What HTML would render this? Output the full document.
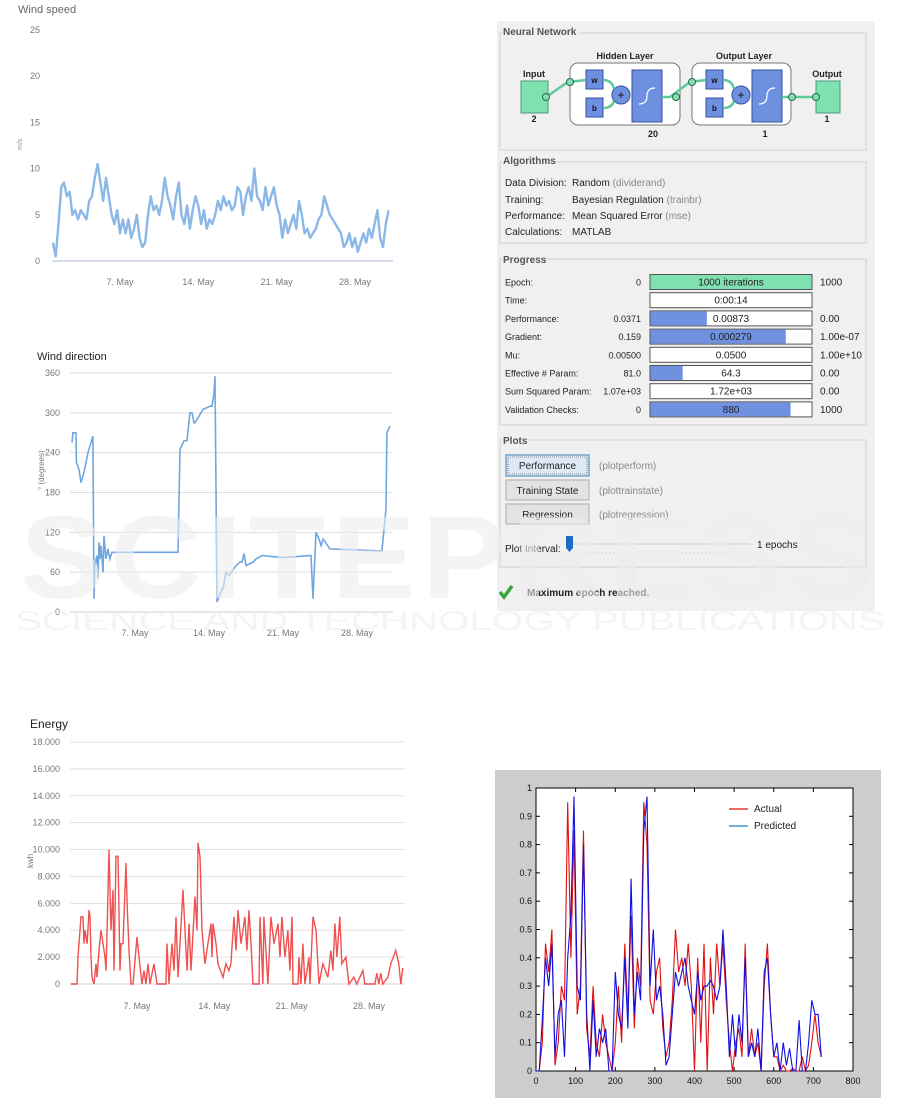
<!DOCTYPE html>
<html><head><meta charset="utf-8">
<style>
html,body{margin:0;padding:0;background:#fff;}
svg{display:block;font-family:"Liberation Sans",sans-serif;}
.tk{font-size:9px;fill:#777;}
.gui{font-size:10px;fill:#222;}
.gray{fill:#888;}
.gt{font-size:10px;font-weight:bold;fill:#555;}
.wm{fill:#ececec;fill-opacity:0.6;}
</style></head>
<body>
<svg id="root" width="901" height="1098" viewBox="0 0 901 1098" xmlns="http://www.w3.org/2000/svg">
  <g id="ws">
    <text x="18" y="13" font-size="11" fill="#666">Wind speed</text>
    <text x="22" y="150" font-size="7" fill="#999" transform="rotate(-90 22 150)">m/s</text>
  </g>
  <g id="wd">
    <text x="37" y="360" font-size="11" fill="#222">Wind direction</text>
    <text x="44" y="490" font-size="8" fill="#777" transform="rotate(-90 44 490)">° (degrees)</text>
  </g>
  <g id="en">
    <text x="30" y="728" font-size="12" fill="#222">Energy</text>
    <text x="33" y="868" font-size="8" fill="#777" transform="rotate(-90 33 868)">kwh</text>
  </g>

  <g id="gui">
    <rect x="497" y="21" width="378" height="590" fill="#f0f0f0"/>
    <rect x="500" y="33" width="366" height="117" fill="none" stroke="#d0d0d0"/>
    <rect x="502" y="24" width="76" height="12" fill="#f0f0f0"/>
    <text class="gt" x="503" y="35">Neural Network</text>

    <g>
      <rect x="521" y="81" width="27" height="32" fill="#7fe0b0" stroke="#4a9a7a"/>
      <text x="534" y="77" font-size="9" font-weight="bold" text-anchor="middle" fill="#222">Input</text>
      <text x="534" y="122" font-size="9" font-weight="bold" text-anchor="middle" fill="#222">2</text>
      <rect x="570" y="63" width="110" height="62" rx="8" fill="#fff" stroke="#777"/>
      <text x="625" y="59" font-size="9" font-weight="bold" text-anchor="middle" fill="#222">Hidden Layer</text>
      <rect x="586" y="70" width="17" height="19" fill="#6f8fe0" stroke="#3050a0"/>
      <text x="594.5" y="83" font-size="8" font-weight="bold" text-anchor="middle" fill="#111">w</text>
      <rect x="586" y="98" width="17" height="19" fill="#6f8fe0" stroke="#3050a0"/>
      <text x="594.5" y="111" font-size="8" font-weight="bold" text-anchor="middle" fill="#111">b</text>
      <circle cx="621" cy="95" r="9" fill="#6f8fe0" stroke="#3050a0"/>
      <text x="621" y="99" font-size="12" text-anchor="middle" fill="#111">+</text>
      <rect x="632" y="70" width="30" height="52" fill="#6f8fe0" stroke="#3050a0"/>
      <path d="M639 104 Q647 104 647 96 Q647 88 655 88" fill="none" stroke="#fff" stroke-width="1.2"/>
      <text x="653" y="137" font-size="9" font-weight="bold" text-anchor="middle" fill="#222">20</text>
      <rect x="692" y="63" width="99" height="62" rx="8" fill="#fff" stroke="#777"/>
      <text x="744" y="59" font-size="9" font-weight="bold" text-anchor="middle" fill="#222">Output Layer</text>
      <rect x="706" y="70" width="17" height="19" fill="#6f8fe0" stroke="#3050a0"/>
      <text x="714.5" y="83" font-size="8" font-weight="bold" text-anchor="middle" fill="#111">w</text>
      <rect x="706" y="98" width="17" height="19" fill="#6f8fe0" stroke="#3050a0"/>
      <text x="714.5" y="111" font-size="8" font-weight="bold" text-anchor="middle" fill="#111">b</text>
      <circle cx="741" cy="95" r="9" fill="#6f8fe0" stroke="#3050a0"/>
      <text x="741" y="99" font-size="12" text-anchor="middle" fill="#111">+</text>
      <rect x="752" y="70" width="30" height="52" fill="#6f8fe0" stroke="#3050a0"/>
      <path d="M759 104 Q767 104 767 96 Q767 88 775 88" fill="none" stroke="#fff" stroke-width="1.2"/>
      <text x="765" y="137" font-size="9" font-weight="bold" text-anchor="middle" fill="#222">1</text>
      <rect x="816" y="81" width="24" height="32" fill="#7fe0b0" stroke="#4a9a7a"/>
      <text x="827" y="77" font-size="9" font-weight="bold" text-anchor="middle" fill="#222">Output</text>
      <text x="827" y="122" font-size="9" font-weight="bold" text-anchor="middle" fill="#222">1</text>
      <g stroke="#5fc89a" stroke-width="2.5" fill="none">
        <path d="M546 97 L568 82 L586 80"/>
        <path d="M603 80 Q612 80 614 89"/>
        <path d="M603 108 Q612 108 614 101"/>
        <path d="M662 97 L670 97 L690 82 L706 80"/>
        <path d="M723 80 Q732 80 734 89"/>
        <path d="M723 108 Q732 108 734 101"/>
        <path d="M782 97 L814 97"/>
      </g>
      <g fill="#7fe0b0" stroke="#2a6a4a">
        <circle cx="546" cy="97" r="3.5"/><circle cx="570" cy="82" r="3.5"/>
        <circle cx="676" cy="97" r="3.5"/><circle cx="692" cy="82" r="3.5"/>
        <circle cx="792" cy="97" r="3.5"/><circle cx="816" cy="97" r="3.5"/>
      </g>
    </g>

    <rect x="500" y="162" width="366" height="81" fill="none" stroke="#d0d0d0"/>
    <rect x="502" y="154" width="52" height="12" fill="#f0f0f0"/>
    <text class="gt" x="503" y="164">Algorithms</text>
    <g class="gui">
      <text x="505" y="186">Data Division:</text><text x="572" y="186">Random <tspan class="gray">  (dividerand)</tspan></text>
      <text x="505" y="203">Training:</text><text x="572" y="203">Bayesian Regulation <tspan class="gray">  (trainbr)</tspan></text>
      <text x="505" y="219">Performance:</text><text x="572" y="219">Mean Squared Error <tspan class="gray">  (mse)</tspan></text>
      <text x="505" y="235">Calculations:</text><text x="572" y="235">MATLAB</text>
    </g>

    <rect x="500" y="259" width="366" height="166" fill="none" stroke="#d0d0d0"/>
    <rect x="502" y="253" width="42" height="12" fill="#f0f0f0"/>
    <text class="gt" x="503" y="263">Progress</text>
    <g id="progress"></g>

    <rect x="500" y="440" width="366" height="127" fill="none" stroke="#d0d0d0"/>
    <rect x="502" y="434" width="26" height="12" fill="#f0f0f0"/>
    <text class="gt" x="503" y="444">Plots</text>
    <g>
      <rect x="506" y="455" width="83" height="21" fill="#dfe9f5" stroke="#3c7fb1"/>
      <rect x="508" y="457" width="79" height="17" fill="none" stroke="#333" stroke-dasharray="1 1" stroke-width="0.6"/>
      <text class="gui" x="547.5" y="469" text-anchor="middle">Performance</text>
    </g>
    <text class="gui gray" x="599" y="469">(plotperform)</text>
    <g>
      <rect x="506" y="480" width="83" height="20" fill="#e3e3e3" stroke="#adadad"/>
      <text class="gui" x="547.5" y="494" text-anchor="middle">Training State</text>
    </g>
    <text class="gui gray" x="599" y="494">(plottrainstate)</text>
    <g>
      <rect x="506" y="504" width="83" height="20" fill="#e3e3e3" stroke="#adadad"/>
      <text class="gui" x="547.5" y="518" text-anchor="middle">Regression</text>
    </g>
    <text class="gui gray" x="599" y="518">(plotregression)</text>
    <text class="gui" x="505" y="552">Plot Interval:</text>
    <g>
      <line x1="570" y1="544" x2="750" y2="544" stroke="#ccc"/>
      <line x1="570" y1="553" x2="750" y2="553" stroke="#bbb" stroke-dasharray="1 3"/>
      <path d="M566 536 L573 536 L573 548 L569.5 552 L566 548 Z" fill="#1a6fc4"/>
    </g>
    <text class="gui" x="757" y="548">1 epochs</text>
    <path d="M500 592 L504 597 L512 586" fill="none" stroke="#3aa33a" stroke-width="3.5"/>
    <text class="gui" x="527" y="596" font-weight="bold" fill="#333">Maximum epoch reached.</text>
  </g>

  <g id="pr">
    <rect x="495" y="770" width="386" height="328" fill="#cdcdcd"/>
    <rect x="536" y="788" width="317" height="283" fill="#fff" stroke="#000" stroke-width="1"/>
  </g>

  <g>
    <text class="wm" x="450" y="598" text-anchor="middle" font-size="118" font-weight="bold" letter-spacing="6" textLength="860" lengthAdjust="spacingAndGlyphs">SCITEPRESS</text>
    <text class="wm" x="450" y="630" text-anchor="middle" font-size="27" textLength="870" lengthAdjust="spacingAndGlyphs">SCIENCE AND TECHNOLOGY PUBLICATIONS</text>
  </g>
</svg>
<script>
const NS = "http://www.w3.org/2000/svg";
function mk(tag, attrs, parent){ const e=document.createElementNS(NS,tag); for(const k in attrs) e.setAttribute(k,attrs[k]); parent.appendChild(e); return e; }

const wsTicks = [0,5,10,15,20,25];
const wsTickLabels = ["0","5","10","15","20","25"];
const wsDateTicks = [7,14,21,28];
const wsDateLabels = ["7. May","14. May","21. May","28. May"];
const wsStartDay = 1;
const wsStepDay = 0.25;
const wsValues = [2,0.5,4,8,8.5,7,7.5,5,5.5,4.5,5.5,5,4.5,6.5,7,9,10.5,8.5,6.5,9,7,5,4,5.5,3,4.5,3,4.5,2.5,3.5,5,2.5,1.5,2,5,7,5.5,6,5,6.5,9,7,6,4.5,7,8.5,5,4,6,3.5,5.5,7,6,4,5.5,3.5,4.5,4,5,6.5,5.5,7,6,6.5,5.5,6,8,7.5,5,7,8,6.5,10,7,6.5,5.5,8,6,7,8,6,5,2.5,4.5,3,4,5,3.5,6.5,5,3,3.5,2.5,3,3.5,4.5,5,7,6,5,4.5,4,3.5,3,1.5,2,3,1.5,2.5,1,2,3,2,3.5,2.5,4,5.5,2.5,1.5,4,5.5];

const wdTicks = [0,60,120,180,240,300,360];
const wdDateTicks = [7,14,21,28];
const wdDateLabels = ["7. May","14. May","21. May","28. May"];
const wdDays = [1.04,1.13,1.42,1.46,1.70,1.89,2.17,2.55,2.93,3.02,3.12,3.21,3.40,3.50,3.59,3.69,3.78,3.97,4.07,4.25,4.44,4.63,4.82,11.07,11.26,11.64,11.92,12.20,12.39,12.58,12.67,13.43,14.09,14.28,14.47,14.57,14.76,15.23,15.33,15.61,15.89,16.56,16.93,17.12,17.31,17.50,18.16,18.45,19.01,21.0,23.55,23.65,23.84,24.12,24.41,24.60,24.79,25.45,30.17,30.36,30.65,30.74,30.83,31.12];
const wdValues = [255,270,270,225,215,195,210,240,260,265,20,70,85,50,105,80,100,60,115,80,95,80,90,90,245,258,258,300,300,285,285,305,310,310,330,355,15,35,35,60,55,70,75,75,88,70,75,80,85,82,85,85,20,120,110,100,110,95,92,92,140,155,270,280,250];

const enTicks = [0,2000,4000,6000,8000,10000,12000,14000,16000,18000];
const enTickLabels = ["0","2.000","4.000","6.000","8.000","10.000","12.000","14.000","16.000","18.000"];
const enDateTicks = [7,14,21,28];
const enDateLabels = ["7. May","14. May","21. May","28. May"];
const enDays = [1.0,1.57,1.66,1.93,2.11,2.20,2.29,2.48,2.66,2.75,2.84,2.93,3.11,3.29,3.38,3.56,3.74,3.92,4.10,4.19,4.29,4.47,4.65,4.83,4.92,5.10,5.28,5.46,5.55,5.73,6.00,6.10,6.28,6.46,6.64,7.00,7.18,7.45,7.63,7.81,8.00,8.18,8.54,8.81,9.62,9.72,9.90,10.17,10.35,10.53,10.71,10.89,11.16,11.53,11.71,11.89,12.25,12.43,12.52,12.70,12.88,13.15,13.42,13.70,13.79,13.88,14.15,14.33,14.78,15.05,15.32,15.50,15.78,15.96,16.14,16.41,16.77,16.95,17.14,17.32,17.50,18.04,18.13,18.40,18.49,18.85,19.12,19.40,19.76,19.94,20.12,20.39,20.66,20.84,21.03,21.12,21.57,21.66,21.84,22.02,22.20,22.57,22.66,22.93,23.20,23.47,23.83,24.28,24.55,24.73,24.91,25.09,25.36,25.54,25.91,26.18,26.63,26.90,27.45,27.62,28.53,28.71,28.89,29.07,29.25,29.70,29.97,30.42,30.70,30.88,31.06];
const enValues = [0,0,2000,5000,5000,3000,4000,3000,5500,5000,2000,500,0,1500,500,2500,4000,3000,2000,1000,4000,10000,4000,7000,1000,9500,9500,1000,3000,3000,9000,6000,2500,0,0,3500,2000,0,1000,0,1500,0,1500,0,0,3000,0,3000,1000,5000,500,3000,7000,1000,4500,1000,6500,4000,10500,9500,4000,1500,3000,4500,2000,4500,3000,1500,500,1500,1000,1500,5000,2500,5500,3000,5000,2500,5500,3000,0,0,5000,0,5000,0,5000,3000,4500,2000,5000,2000,4000,1000,5000,0,0,2000,0,3000,0,2000,0,5000,4000,0,1500,500,2500,1000,4500,2000,5000,1500,2000,0,500,0,1000,0,0,800,0,800,0,500,1500,2500,1500,0,1200];

const prXTicks = [0,100,200,300,400,500,600,700,800];
const prYTicks = [0,0.1,0.2,0.3,0.4,0.5,0.6,0.7,0.8,0.9,1];
const prYLabels = ["0","0.1","0.2","0.3","0.4","0.5","0.6","0.7","0.8","0.9","1"];
const prStep = 8;
const actualValues = [0,0,0.1,0.45,0.35,0.5,0.02,0.1,0.3,0.25,0.95,0.4,0.85,0.2,0.3,0.85,0.15,0.05,0.3,0.1,0.05,0.2,0.1,0.05,0,0.1,0.3,0.1,0.45,0.2,0.55,0.15,0.4,0.3,0.95,0.8,0.25,0.2,0.35,0.4,0.15,0.05,0.1,0.25,0.5,0.35,0.4,0.3,0.45,0.3,0,0.4,0.1,0.45,0,0.4,0.2,0.45,0.3,0.45,0.25,0.1,0,0.1,0.15,0.05,0.45,0.05,0.15,0.05,0.1,0,0.3,0.45,0.2,0.05,0.05,0,0.02,0,0,0.01,0,0,0.05,0,0.02,0.1,0.2,0.1,0.05];
const predictedValues = [0,0,0.18,0.4,0.3,0.45,0.05,0.2,0.25,0.05,0.4,0.55,0.97,0.3,0.25,0.8,0.2,0,0.25,0.05,0.15,0.1,0.15,0,0,0.35,0.2,0.15,0.4,0.15,0.68,0.2,0.35,0.25,0.85,0.97,0.3,0.5,0.25,0.3,0.2,0.02,0.05,0.2,0.35,0.3,0.35,0.4,0.3,0.25,0.2,0.35,0.25,0.3,0.3,0.32,0.3,0.25,0.3,0.5,0.3,0.05,0.2,0.05,0.2,0.1,0.4,0.05,0.1,0.05,0.15,0,0.35,0.4,0.2,0.05,0.1,0,0.1,0.02,0.08,0,0,0.18,0,0,0.1,0.25,0.2,0.2,0.05];

function linear(d0,d1,r0,r1){ return v => r0 + (v-d0)/(d1-d0)*(r1-r0); }

(function(){
  const g = document.getElementById('ws');
  const x = linear(7,28,120,355), y = linear(0,25,261,30);
  wsTicks.forEach((t,i)=>{
    const tx = mk('text',{x:40,y:y(t)+3,'text-anchor':'end',class:'tk'},g);
    tx.textContent = wsTickLabels[i];
    
    
  });
  wsDateTicks.forEach((d,i)=>{
    const tx = mk('text',{x:x(d),y:285,'text-anchor':'middle',class:'tk'},g);
    tx.textContent = wsDateLabels[i];
    
    
  });
  mk('line',{x1:52,y1:261,x2:393,y2:261,stroke:'#c8d4e8','stroke-width':1.5},g);
  const pts = wsValues.map((v,i)=>x(wsStartDay+i*wsStepDay).toFixed(1)+','+y(v).toFixed(1)).join(' ');
  const pl = mk('polyline',{points:pts,fill:'none',stroke:'#7fb0e6','stroke-width':2.4,'stroke-linejoin':'round',opacity:0.9},g);
  
  
})();

(function(){
  const g = document.getElementById('wd');
  const x = linear(7,28,135,357), y = linear(0,360,612,373);
  wdTicks.forEach(t=>{
    const ln = mk('line',{x1:70,y1:y(t),x2:393,y2:y(t),stroke:'#ddd','stroke-width':t===0?1.5:1},g);
    
    
    const tx = mk('text',{x:60,y:y(t)+3,'text-anchor':'end',class:'tk'},g);
    tx.textContent = String(t);
    
    
  });
  wdDateTicks.forEach((d,i)=>{
    const tx = mk('text',{x:x(d),y:636,'text-anchor':'middle',class:'tk'},g);
    tx.textContent = wdDateLabels[i];
    
    
  });
  const pts = wdDays.map((d,i)=>x(d).toFixed(1)+','+y(wdValues[i]).toFixed(1)).join(' ');
  const pl = mk('polyline',{points:pts,fill:'none',stroke:'#6fa6e0','stroke-width':1.6},g);
  
  
})();

(function(){
  const g = document.getElementById('en');
  const x = linear(7,28,137,369), y = linear(0,18000,984,742);
  enTicks.forEach((t,i)=>{
    const ln = mk('line',{x1:70,y1:y(t),x2:405,y2:y(t),stroke:'#e2e2e2','stroke-width':t===0?1.5:1},g);
    
    
    const tx = mk('text',{x:60,y:y(t)+3,'text-anchor':'end',class:'tk'},g);
    tx.textContent = enTickLabels[i];
    
    
  });
  enDateTicks.forEach((d,i)=>{
    const tx = mk('text',{x:x(d),y:1009,'text-anchor':'middle',class:'tk'},g);
    tx.textContent = enDateLabels[i];
    
    
  });
  const pts = enDays.map((d,i)=>x(d).toFixed(1)+','+y(enValues[i]).toFixed(1)).join(' ');
  const pl = mk('polyline',{points:pts,fill:'none',stroke:'#f05050','stroke-width':1.4},g);
  
  
})();

const progLabels = ["Epoch:","Time:","Performance:","Gradient:","Mu:","Effective # Param:","Sum Squared Param:","Validation Checks:"];
const progStart = ["0","","0.0371","0.159","0.00500","81.0","1.07e+03","0"];
const progCurrent = ["1000 iterations","0:00:14","0.00873","0.000279","0.0500","64.3","1.72e+03","880"];
const progFill = [1,0,0.35,0.84,0,0.2,0,0.87];
const progEnd = ["1000","","0.00","1.00e-07","1.00e+10","0.00","0.00","1000"];
(function(){
  const g = document.getElementById('progress');
  progLabels.forEach((lab,i)=>{
    const cy = 282 + i*18.2;
    const row = mk('g',{},g);
    
    
    mk('text',{x:505,y:cy+3.5,class:'gui',style:'font-size:9px'},row).textContent = lab;
    mk('text',{x:641,y:cy+3.5,class:'gui','text-anchor':'end',style:'font-size:9px'},row).textContent = progStart[i];
    mk('rect',{x:650,y:cy-7.5,width:162,height:15,fill:'#fff',stroke:'#555'},row);
    if(progFill[i]>0) mk('rect',{x:650.5,y:cy-7,width:161*progFill[i],height:14,fill:i===0?'#7fe0b0':'#7090e0'},row);
    mk('text',{x:731,y:cy+3.5,class:'gui','text-anchor':'middle'},row).textContent = progCurrent[i];
    mk('text',{x:820,y:cy+3.5,class:'gui'},row).textContent = progEnd[i];
  });
})();

(function(){
  const g = document.getElementById('pr');
  const x = linear(0,800,536,853), y = linear(0,1,1071,788);
  prXTicks.forEach(t=>{
    mk('line',{x1:x(t),y1:1071,x2:x(t),y2:1067,stroke:'#000'},g);
    mk('line',{x1:x(t),y1:788,x2:x(t),y2:792,stroke:'#000'},g);
    const tx = mk('text',{x:x(t),y:1084,'text-anchor':'middle','font-size':9,fill:'#111'},g);
    tx.textContent = String(t);
    
    
  });
  prYTicks.forEach((t,i)=>{
    mk('line',{x1:536,y1:y(t),x2:540,y2:y(t),stroke:'#000'},g);
    mk('line',{x1:853,y1:y(t),x2:849,y2:y(t),stroke:'#000'},g);
    const tx = mk('text',{x:532,y:y(t)+3,'text-anchor':'end','font-size':9,fill:'#111'},g);
    tx.textContent = prYLabels[i];
    
    
  });
  const a = mk('polyline',{points:actualValues.map((v,i)=>x(i*prStep).toFixed(1)+','+y(v).toFixed(1)).join(' '),fill:'none',stroke:'#e01010','stroke-width':1.1},g);
  
  
  const p = mk('polyline',{points:predictedValues.map((v,i)=>x(i*prStep).toFixed(1)+','+y(v).toFixed(1)).join(' '),fill:'none',stroke:'#1010e0','stroke-width':1.1},g);
  
  
  const lg = mk('g',{},g);
  
  
  mk('line',{x1:729,y1:809,x2:748,y2:809,stroke:'#e01010','stroke-width':1.2},lg);
  mk('text',{x:754,y:812,'font-size':10,fill:'#222'},lg).textContent='Actual';
  mk('line',{x1:729,y1:826,x2:748,y2:826,stroke:'#1a7fc8','stroke-width':1.2},lg);
  mk('text',{x:754,y:829,'font-size':10,fill:'#222'},lg).textContent='Predicted';
})();
</script>
</body></html>
